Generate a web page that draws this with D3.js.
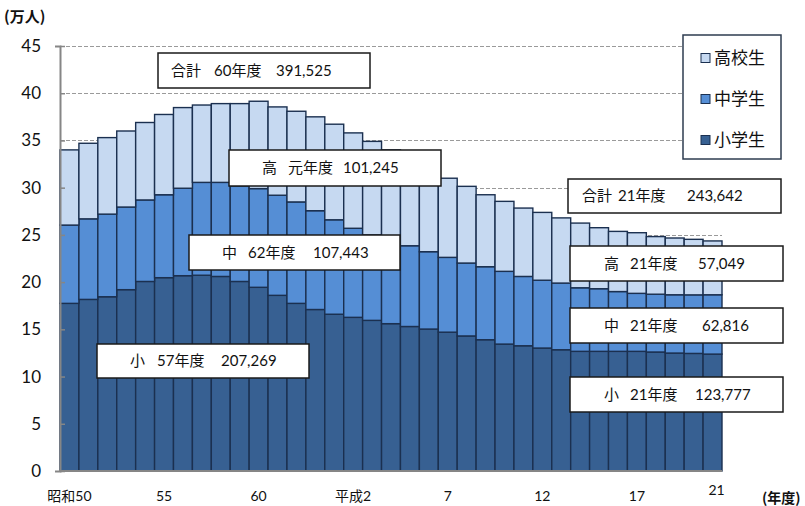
<!DOCTYPE html>
<html>
<head>
<meta charset="UTF-8">
<style>
body {
	margin: 0 ;
	background-color: #ffffff ;
	font-family: Lato, "Noto Sans CJK JP", sans-serif ;
}
.grid line {
	stroke: #9a9a9a ;
	stroke-dasharray: 4,2 ;
}
.note rect {
	fill: #ffffff ;
	stroke: #1a1a1a ;
	stroke-width: 1.5 ;
}
.note text {
	font-size: 15px ;
	fill: #111 ;
}
</style>
<title>児童生徒数の推移</title>
<script src="https://cdn.jsdelivr.net/npm/d3@7/dist/d3.min.js"></script>
</head>
<body>
<div id="chart"></div>

<script type="text/javascript" charset="utf-8">

	// 年度 (昭和50 .. 平成21)
	const years = [
		"昭和50","51","52","53","54","55","56","57","58","59",
		"60","61","62","63","平成元","2","3","4","5","6",
		"7","8","9","10","11","12","13","14","15","16",
		"17","18","19","20","21"
	] ;
	// x軸に出す目盛り (index -> 表示)
	const tickIndex = [ 0, 5, 10, 15, 20, 25, 30, 34 ] ;
	const tickText  = [ "昭和50", "55", "60", "平成2", "7", "12", "17", "21" ] ;

	// 万人
	const shogaku = [
		17.75, 18.17, 18.45, 19.20, 20.07, 20.47, 20.68, 20.73, 20.60, 20.07,
		19.45, 18.60, 17.75, 17.10, 16.60, 16.27, 15.95, 15.60, 15.30, 15.03,
		14.70, 14.30, 13.90, 13.44, 13.26, 13.02, 12.84, 12.67, 12.67, 12.67,
		12.67, 12.60, 12.49, 12.45, 12.38
	] ;
	const chugaku = [
		 8.29,  8.53,  8.75,  8.75,  8.63,  8.78,  9.26,  9.83,  9.96, 10.13,
		10.45, 10.60, 10.74, 10.46, 10.00,  9.43,  9.05,  8.80,  8.55,  8.19,
		 7.92,  7.72,  7.73,  7.70,  7.34,  7.18,  7.06,  6.73,  6.63,  6.33,
		 6.14,  6.12,  6.17,  6.20,  6.28
	] ;
	const koko = [
		 7.96,  8.00,  8.10,  8.05,  8.20,  8.50,  8.54,  8.19,  8.34,  8.70,
		 9.25,  9.35,  9.60,  9.94, 10.12, 10.10,  9.90,  9.60,  9.15,  8.78,
		 8.38,  8.12,  7.62,  7.41,  7.24,  7.18,  6.90,  6.85,  6.46,  6.37,
		 6.42,  6.10,  6.01,  5.88,  5.70
	] ;

	const seriesKeys  = [ "shogaku", "chugaku", "koko" ] ;
	const seriesNames = [ "小学生", "中学生", "高校生" ] ;
	const seriesColors = [ "#376092", "#558ed5", "#c6d9f1" ] ;

	const yTicks = [ 0, 5, 10, 15, 20, 25, 30, 35, 40, 45 ] ;

	// 吹き出し (label, year, value)
	const notes = [
		[ "合計", "60年度", "391,525" ],
		[ "高",   "元年度", "101,245" ],
		[ "中",   "62年度", "107,443" ],
		[ "小",   "57年度", "207,269" ],
		[ "合計", "21年度", "243,642" ],
		[ "高",   "21年度", "57,049" ],
		[ "中",   "21年度", "62,816" ],
		[ "小",   "21年度", "123,777" ]
	] ;
	// box x, y, w, h and text offsets
	const noteLayout = [
		[ 158,  53, 212, 35, 13, 56, 118 ],
		[ 229, 150, 212, 36, 33, 59, 114 ],
		[ 189, 235, 211, 35, 33, 59, 124 ],
		[  97, 344, 212, 34, 33, 60, 124 ],
		[ 568, 179, 213, 34, 14, 50, 119 ],
		[ 570, 246, 213, 35, 34, 60, 128 ],
		[ 570, 308, 213, 35, 34, 60, 132 ],
		[ 570, 377, 213, 35, 34, 60, 125 ]
	] ;

	const W = 805, H = 506 ;
	const plotL = 60, plotR = 722, plotT = 46, plotB = 471 ;

	const svg = d3.select("#chart").append("svg")
		.attr("width", W)
		.attr("height", H) ;

	const table = years.map( function(yr, i) {
		return { year: yr, shogaku: shogaku[i], chugaku: chugaku[i], koko: koko[i] } ;
	}) ;

	const x = d3.scaleBand()
		.domain( years.map( function(d, i) { return i ; } ) )
		.range([ plotL, plotR ])
		.padding( 0 ) ;

	const y = d3.scaleLinear()
		.domain([ 0, 45 ])
		.range([ plotB, plotT ]) ;

	// gridlines
	svg.append("g").attr("class", "grid")
		.selectAll("line")
		.data( yTicks.filter( function(t) { return t > 0 ; } ) )
		.enter().append("line")
			.attr("x1", plotL)
			.attr("x2", plotR)
			.attr("y1", function(t) { return Math.round( y(t) ) + 0.5 ; })
			.attr("y2", function(t) { return Math.round( y(t) ) + 0.5 ; }) ;

	// stacked bars
	const stacked = d3.stack().keys( seriesKeys )( table ) ;

	svg.append("g")
		.selectAll("g")
		.data( stacked )
		.enter().append("g")
			.attr("fill", function(d, i) { return seriesColors[i] ; })
		.selectAll("rect")
		.data( function(d) { return d ; } )
		.enter().append("rect")
			.attr("x", function(d, i) { return x(i) ; })
			.attr("width", x.bandwidth())
			.attr("y", function(d) { return y( d[1] ) ; })
			.attr("height", function(d) { return y( d[0] ) - y( d[1] ) ; })
			.attr("stroke", "#1b3050")
			.attr("stroke-width", 1.4) ;

	// y axis
	const yAxis = svg.append("g")
		.attr("transform", "translate(" + plotL + ",0)")
		.call( d3.axisLeft(y).tickValues( yTicks ).tickSize( 5 ).tickPadding( 14 ) ) ;
	yAxis.select(".domain").attr("stroke", "#868686").attr("stroke-width", 2) ;
	yAxis.selectAll(".tick line").attr("x2", 5).attr("stroke", "#868686").attr("stroke-width", 1.5) ;
	yAxis.selectAll(".tick text")
		.attr("font-size", "17px")
		.attr("font-family", "Lato, sans-serif")
		.attr("fill", "#111") ;

	// x axis
	svg.append("line")
		.attr("x1", plotL - 1).attr("x2", plotR)
		.attr("y1", plotB).attr("y2", plotB)
		.attr("stroke", "#868686")
		.attr("stroke-width", 2) ;

	const xAxis = svg.append("g")
		.attr("transform", "translate(0," + plotB + ")")
		.call( d3.axisBottom(x)
			.tickValues( tickIndex )
			.tickFormat( function(d) { return tickText[ tickIndex.indexOf(d) ] ; } )
			.tickSize( 0 )
			.tickPadding( 20 ) ) ;
	xAxis.select(".domain").remove() ;
	xAxis.selectAll(".tick text")
		.attr("font-size", "14px")
		.attr("font-family", "Lato, 'Noto Sans CJK JP', sans-serif")
		.attr("fill", "#111")
		.attr("dy", function(d) { return d == 34 ? "0.3em" : "0.71em" ; })
		.attr("dx", function(d) { return d == 34 ? 4 : 0 ; }) ;

	// unit labels
	svg.append("text")
		.attr("x", 4).attr("y", 22)
		.attr("font-size", "15px")
		.attr("font-weight", "bold")
		.attr("font-family", "'Noto Sans CJK JP', sans-serif")
		.attr("fill", "#111")
		.text("(万人)") ;
	svg.append("text")
		.attr("x", 762).attr("y", 503)
		.attr("font-size", "14px")
		.attr("font-weight", "bold")
		.attr("font-family", "'Noto Sans CJK JP', sans-serif")
		.attr("fill", "#111")
		.text("(年度)") ;

	// legend
	const lg = svg.append("g").attr("transform", "translate(683,35)") ;
	lg.append("rect")
		.attr("width", 98).attr("height", 124)
		.attr("fill", "#fff")
		.attr("stroke", "#2e3c50")
		.attr("stroke-width", 1.5) ;
	const legendOrder = [ 2, 1, 0 ] ;
	legendOrder.forEach( function(s, k) {
		const cy = 23 + k * 41 ;
		lg.append("rect")
			.attr("x", 18).attr("y", cy - 4.5)
			.attr("width", 9).attr("height", 9)
			.attr("fill", seriesColors[s])
			.attr("stroke", "#1b3050")
			.attr("stroke-width", 1) ;
		lg.append("text")
			.attr("x", 31).attr("y", cy)
			.attr("dy", "0.36em")
			.attr("font-size", "17px")
			.attr("font-family", "'Noto Sans CJK JP', sans-serif")
			.attr("fill", "#111")
			.text( seriesNames[s] ) ;
	}) ;

	// notes
	const ng = svg.append("g").attr("class", "note")
		.selectAll("g")
		.data( notes )
		.enter().append("g")
			.attr("transform", function(d, i) {
				return "translate(" + noteLayout[i][0] + "," + noteLayout[i][1] + ")" ;
			}) ;
	ng.append("rect")
		.attr("width", function(d, i) { return noteLayout[i][2] ; })
		.attr("height", function(d, i) { return noteLayout[i][3] ; }) ;
	[ 0, 1, 2 ].forEach( function(p) {
		ng.append("text")
			.attr("x", function(d, i) { return noteLayout[i][4 + p] ; })
			.attr("y", function(d, i) { return noteLayout[i][3] / 2 ; })
			.attr("dy", "0.36em")
			.text( function(d) { return d[p] ; }) ;
	}) ;

</script>
</body>
</html>
